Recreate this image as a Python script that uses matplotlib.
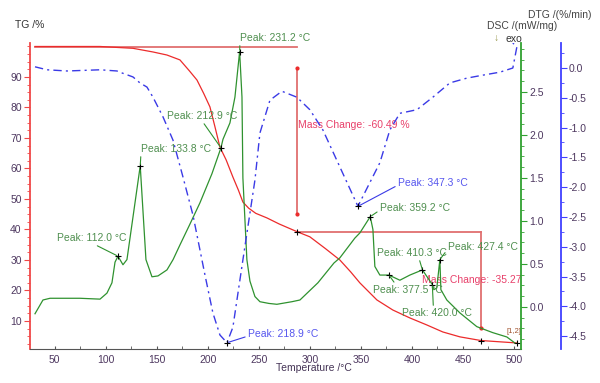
import matplotlib.pyplot as plt
from matplotlib.ticker import MultipleLocator

plt.rcParams['font.family'] = ['Liberation Sans', 'DejaVu Sans']
plt.rcParams['axes.unicode_minus'] = False

# TG curve (%)
tg_temp = [30.7, 94.4, 126.7, 146.3, 160.0, 172.7, 182.0, 189.4, 196.0, 202.1, 207.0, 211.9,
           218.0, 224.6, 230.0, 234.4, 240.0, 247.0, 257.9, 270.0, 287.3, 300.0, 315.0, 329.4,
           340.0, 349.0, 365.7, 381.3, 398.0, 414.6, 430.3, 447.0, 467.5, 485.0, 502.8]
tg_val = [100.0, 100.0, 99.4, 98.2, 97.2, 95.6, 92.0, 89.0, 84.6, 80.2, 73.7, 67.0,
          62.8, 57.2, 52.9, 49.0, 47.0, 45.3, 43.8, 41.8, 39.3, 37.6, 33.8, 30.0,
          26.1, 22.5, 16.9, 13.6, 11.0, 8.7, 6.4, 4.8, 3.6, 3.2, 2.8]

# DSC curve (mW/mg)
dsc_temp = [30.7, 38.5, 45.4, 62.1, 74.8, 94.4, 101.2, 106.1, 109.1, 112.0, 116.9, 120.8,
            133.8, 139.4, 145.3, 151.2, 160.0, 166.0, 172.7, 182.0, 192.3, 204.1, 212.9, 214.9,
            221.7, 226.6, 231.2, 233.5, 234.4, 238.3, 241.3, 246.2, 251.1, 259.9, 267.7, 282.4,
            290.3, 307.9, 323.6, 329.4, 344.1, 349.0, 359.2, 361.8, 363.7, 368.6, 377.5,
            388.2, 398.0, 410.3, 420.0, 421.5, 424.4, 427.4, 428.4, 434.2, 447.0, 463.6,
            479.3, 493.0, 500.9]
dsc_val = [-0.08, 0.08, 0.10, 0.10, 0.10, 0.09, 0.16, 0.28, 0.52, 0.59, 0.49, 0.55,
           1.64, 0.55, 0.35, 0.36, 0.43, 0.55, 0.72, 0.95, 1.21, 1.55, 1.85, 1.95,
           2.14, 2.44, 2.97, 2.44, 1.50, 0.55, 0.30, 0.12, 0.06, 0.04, 0.03, 0.06,
           0.08, 0.28, 0.51, 0.57, 0.80, 0.86, 1.05, 0.90, 0.47, 0.37, 0.37,
           0.31, 0.37, 0.43, 0.26, 0.20, 0.22, 0.55, 0.20, 0.08, -0.07, -0.23,
           -0.30, -0.35, -0.42]

# DTG curve (%/min)
dtg_temp = [30.7, 42.5, 62.1, 94.4, 111.0, 113.8, 126.7, 133.5, 140.4, 146.3, 156.1, 165.9,
            175.7, 185.5, 197.2, 205.0, 211.9, 218.8, 224.6, 234.4, 246.2, 251.1, 260.9,
            272.6, 287.3, 300.0, 312.8, 329.4, 347.1, 368.6, 378.4, 388.2, 404.9, 420.5,
            437.2, 453.8, 469.5, 486.2, 498.9, 500.9, 502.8, 498.9]
dtg_val = [0.02, -0.03, -0.05, -0.03, -0.05, -0.07, -0.15, -0.25, -0.32, -0.49, -0.82, -1.21,
           -1.83, -2.47, -3.47, -4.11, -4.48, -4.61, -4.35, -3.22, -1.88, -1.09, -0.54,
           -0.39, -0.49, -0.70, -1.04, -1.66, -2.32, -1.59, -1.04, -0.76, -0.70, -0.49,
           -0.25, -0.17, -0.12, -0.07, 0.0, 0.18, 0.35, 0.42]

# peaks
dsc_peak_temp = [112.0, 133.8, 212.9, 231.2, 359.2, 377.5, 410.3, 420.0, 427.4]
dsc_peak_val = [0.59, 1.64, 1.85, 2.97, 1.05, 0.37, 0.43, 0.26, 0.55]
dtg_peak_temp = [218.9, 347.3]
dtg_peak_val = [-4.61, -2.32]

# mass change steps
step_from_temp = [30.7, 287.3]
step_temp = [287.3, 467.5]
step_level = [99.8, 39.3]
step_end = [39.3, 3.6]
step_arrow_top = [93.0, 39.3]
step_arrow_bot = [45.1, 7.7]
mass_change = ['-60.49 %', '-35.27']

RED = '#ec2b2b'
STEP = '#e07070'
MASS_TXT = '#e8406a'
GREEN = '#2f922f'
GREEN_TXT = '#4f8f4f'
BLUE = '#3a3ae6'
BLUE_TXT = '#5656ee'
TICK_TXT = '#4e3860'
FS = 7.5

fig = plt.figure(figsize=(6, 3.83), dpi=100)
ax = fig.add_axes([0.05, 0.0888, 0.818, 0.799])
ax_dsc = ax.twinx()
ax_dtg = ax.twinx()
ax_dtg.spines['right'].set_position(('axes', 1.081))

ax.set_xlim(25.8, 506.7)
ax.set_ylim(0.82, 101.15)
ax_dsc.set_ylim(-0.49, 3.07)
ax_dtg.set_ylim(-4.715, 0.42)

# curves
ax.plot(tg_temp, tg_val, color=RED, lw=0.9, zorder=3)
ax_dsc.plot(dsc_temp, dsc_val, color=GREEN, lw=0.9)
ax_dtg.plot(dtg_temp, dtg_val, color=BLUE, lw=1.0, ls=(0, (6, 3, 1.5, 3)))

# mass change steps
for i in range(2):
    ax.plot([step_from_temp[i], step_temp[i]], [step_level[i], step_level[i]],
            color=STEP, lw=1.3, zorder=2)
    ax.plot([step_temp[i], step_temp[i]], [step_arrow_top[i], step_arrow_bot[i]],
            color=STEP, lw=1.3, zorder=2)
    ax.plot([step_temp[i]], [step_arrow_bot[i]], 'o', color=RED, ms=2, zorder=4)
    ax.plot([step_temp[i]], [step_end[i]], '+', color='black', ms=5, mew=0.8, zorder=5)
ax.plot([step_temp[0]], [step_arrow_top[0]], 'o', color=RED, ms=2, zorder=4)
ax.plot([tg_temp[-1]], [tg_val[-1]], '+', color='black', ms=5, mew=0.8, zorder=5)

ax.text(288.3, 74.3, 'Mass Change: ' + mass_change[0], color=MASS_TXT, fontsize=FS, va='center')
ax.text(409.7, 23.4, 'Mass Change: ' + mass_change[1], color=MASS_TXT, fontsize=FS, va='center')
ax.text(493.0, 6.4, '[1,2]', color='#a0522d', fontsize=5.5, va='center')

# peak markers and labels
ax_dsc.plot(dsc_peak_temp, dsc_peak_val, '+', color='black', ms=5, mew=0.8, zorder=5)
ax_dtg.plot(dtg_peak_temp, dtg_peak_val, '+', color='black', ms=5, mew=0.8, zorder=5)

dsc_label_pos = [(52.3, 37.2, (0.5, 0)), (134.5, 66.4, (0, 0)), (160.0, 77.2, (0.5, 0)),
                 (231.5, 102.8, (0, 0)), (368.6, 47.0, (0, 0.3)), (361.8, 20.2, (0.33, 1)),
                 (365.7, 32.3, (0.6, 0)), (390.2, 12.6, (0.45, 1)), (435.2, 34.3, (0, 0.3))]
dtg_label_pos = [(239.3, 5.7, (0, 0.3)), (386.3, 55.2, (0, 0.3))]

for t, v, (tx, ty, rp) in zip(dsc_peak_temp, dsc_peak_val, dsc_label_pos):
    ax_dtg.annotate(f'Peak: {t:.1f} °C', xy=(t, v), xycoords=ax_dsc.transData,
                    xytext=(tx, ty), textcoords=ax.transData, color=GREEN_TXT,
                    fontsize=FS, va='center', ha='left', annotation_clip=False,
                    arrowprops=dict(arrowstyle='-', color=GREEN, lw=0.8,
                                    shrinkA=0, shrinkB=1, relpos=rp))
for t, v, (tx, ty, rp) in zip(dtg_peak_temp, dtg_peak_val, dtg_label_pos):
    ax_dtg.annotate(f'Peak: {t:.1f} °C', xy=(t, v), xycoords=ax_dtg.transData,
                    xytext=(tx, ty), textcoords=ax.transData, color=BLUE_TXT,
                    fontsize=FS, va='center', ha='left', annotation_clip=False,
                    arrowprops=dict(arrowstyle='-', color=BLUE, lw=0.8,
                                    shrinkA=0, shrinkB=1, relpos=rp))

# spines
for a in (ax, ax_dsc, ax_dtg):
    a.spines['top'].set_visible(False)
ax.spines['right'].set_visible(False)
for a in (ax_dsc, ax_dtg):
    a.spines['left'].set_visible(False)
    a.spines['bottom'].set_visible(False)
ax.spines['left'].set_color('#f04848')
ax.spines['left'].set_linewidth(1.3)
ax.spines['bottom'].set_color('#555555')
ax_dsc.spines['right'].set_color('#30a030')
ax_dsc.spines['right'].set_linewidth(1.3)
ax_dtg.spines['right'].set_color('#4040ff')
ax_dtg.spines['right'].set_linewidth(1.3)

# ticks
ax.set_xticks(range(50, 501, 50))
ax.xaxis.set_minor_locator(MultipleLocator(25))
ax.tick_params(axis='x', which='both', direction='in', length=2.5, color='#555555',
               labelsize=FS, labelcolor=TICK_TXT, pad=4)
ax.set_yticks(range(10, 91, 10))
ax.yaxis.set_minor_locator(MultipleLocator(2.5))
ax.tick_params(axis='y', which='major', length=4, color='#f04848', labelsize=FS,
               labelcolor=TICK_TXT, pad=2)
ax.tick_params(axis='y', which='minor', length=2.5, color='#f04848')

ax_dsc.set_yticks([0.0, 0.5, 1.0, 1.5, 2.0, 2.5])
ax_dsc.yaxis.set_minor_locator(MultipleLocator(0.125))
ax_dsc.yaxis.set_major_formatter('{x:.1f}')
ax_dsc.tick_params(axis='y', which='major', length=4, color='#30a030', labelsize=FS,
                   labelcolor=TICK_TXT, pad=2)
ax_dsc.tick_params(axis='y', which='minor', length=2.5, color='#30a030')

ax_dtg.set_yticks([0.0, -0.5, -1.0, -1.5, -2.0, -2.5, -3.0, -3.5, -4.0, -4.5])
ax_dtg.yaxis.set_minor_locator(MultipleLocator(0.25))
ax_dtg.yaxis.set_major_formatter('{x:.1f}')
ax_dtg.tick_params(axis='y', which='major', length=4, color='#4040ff', labelsize=FS,
                   labelcolor=TICK_TXT, pad=2)
ax_dtg.tick_params(axis='y', which='minor', length=2.5, color='#4040ff')

# axis titles
fig.text(0.523, 0.039, 'Temperature /°C', fontsize=FS, color='#443355', ha='center', va='center')
fig.text(0.025, 0.935, 'TG /%', fontsize=FS, color='#333333', ha='left', va='center')
fig.text(0.812, 0.932, 'DSC /(mW/mg)', fontsize=FS, color='#444444', ha='left', va='center')
fig.text(0.880, 0.961, 'DTG /(%/min)', fontsize=FS, color='#444444', ha='left', va='center')
fig.text(0.823, 0.902, '↓', fontsize=FS, color='#9a9a50', ha='left', va='center')
fig.text(0.843, 0.899, 'exo', fontsize=FS, color='#333333', ha='left', va='center')

fig.savefig('out.png', dpi=100)
